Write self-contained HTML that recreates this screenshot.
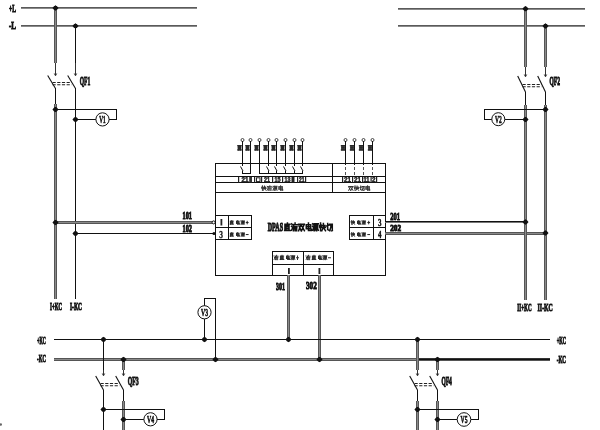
<!DOCTYPE html>
<html><head><meta charset="utf-8"><style>
html,body{margin:0;padding:0;background:#fff;}
svg{display:block;filter:grayscale(1);}
</style></head><body>
<svg width="600" height="430" viewBox="0 0 600 430">
<rect x="0" y="0" width="600" height="430" fill="#fff"/>
<rect x="21" y="7" width="176" height="1" fill="#5a5a5a"/>
<rect x="21" y="8" width="176" height="1" fill="#8a8a8a"/>
<rect x="21" y="25" width="176" height="1" fill="#5a5a5a"/>
<rect x="21" y="26" width="176" height="1" fill="#8a8a8a"/>
<rect x="398" y="8" width="187" height="1" fill="#5a5a5a"/>
<rect x="398" y="9" width="187" height="1" fill="#8a8a8a"/>
<rect x="398" y="25" width="187" height="1" fill="#5a5a5a"/>
<rect x="398" y="26" width="187" height="1" fill="#8a8a8a"/>
<text x="9" y="11.5" font-family="Liberation Serif" font-weight="bold" font-size="10.61" fill="#111" stroke="#111" stroke-width="1.0" textLength="7" lengthAdjust="spacingAndGlyphs">+L</text>
<text x="9" y="29" font-family="Liberation Serif" font-weight="bold" font-size="10.61" fill="#111" stroke="#111" stroke-width="1.0" textLength="7" lengthAdjust="spacingAndGlyphs">-L</text>
<rect x="54" y="8" width="3" height="55" fill="#555"/>
<rect x="55" y="8" width="1" height="55" fill="#8a8a8a"/>
<rect x="75" y="26" width="1" height="37" fill="#111"/>
<rect x="55" y="63" width="1" height="12" fill="#333"/>
<rect x="75" y="63" width="1" height="12" fill="#333"/>
<line x1="54.3" y1="73.5" x2="55.5" y2="75.8" stroke="#222" stroke-width="0.9"/>
<line x1="56.7" y1="73.5" x2="55.5" y2="75.8" stroke="#222" stroke-width="0.9"/>
<line x1="74.3" y1="73.5" x2="75.5" y2="75.8" stroke="#222" stroke-width="0.9"/>
<line x1="76.7" y1="73.5" x2="75.5" y2="75.8" stroke="#222" stroke-width="0.9"/>
<line x1="47.7" y1="75.5" x2="55.5" y2="88.5" stroke="#111" stroke-width="1.1"/>
<line x1="67.7" y1="75.5" x2="75.5" y2="88.5" stroke="#111" stroke-width="1.1"/>
<line x1="52.5" y1="82.5" x2="71.5" y2="82.5" stroke="#222" stroke-width="1.1" stroke-dasharray="3.2,1.5"/>
<line x1="52.5" y1="84.8" x2="71.5" y2="84.8" stroke="#222" stroke-width="1.1" stroke-dasharray="3.2,1.5"/>
<text x="79.7" y="85.2" font-family="Liberation Serif" font-weight="bold" font-size="12.42" fill="#111" stroke="#111" stroke-width="1.0" textLength="10.599999999999994" lengthAdjust="spacingAndGlyphs">QF1</text>
<rect x="55" y="88" width="1" height="16" fill="#111"/>
<rect x="54" y="104" width="3" height="195" fill="#555"/>
<rect x="55" y="104" width="1" height="195" fill="#8a8a8a"/>
<rect x="75" y="88" width="1" height="211" fill="#111"/>
<rect x="55" y="109" width="62" height="1" fill="#111"/>
<rect x="116" y="109" width="1" height="11" fill="#111"/>
<rect x="75" y="119" width="21" height="1" fill="#111"/>
<circle cx="102.5" cy="119.4" r="6.6" fill="#fff" stroke="#111" stroke-width="1"/>
<rect x="109" y="119" width="8" height="1" fill="#111"/>
<text x="99.3" y="123" font-family="Liberation Serif" font-weight="bold" font-size="11.21" fill="#111" stroke="#111" stroke-width="0.6" textLength="6.400000000000006" lengthAdjust="spacingAndGlyphs">V1</text>
<text x="50" y="309.7" font-family="Liberation Serif" font-weight="bold" font-size="10.15" fill="#111" stroke="#111" stroke-width="1.0" textLength="12" lengthAdjust="spacingAndGlyphs">I+KC</text>
<text x="70" y="309.7" font-family="Liberation Serif" font-weight="bold" font-size="10.15" fill="#111" stroke="#111" stroke-width="1.0" textLength="12" lengthAdjust="spacingAndGlyphs">I-KC</text>
<rect x="55" y="221" width="158" height="3" fill="#555"/>
<rect x="55" y="222" width="158" height="1" fill="#8a8a8a"/>
<rect x="75" y="233" width="138" height="1" fill="#111"/>
<circle cx="213.6" cy="222.4" r="1.5" fill="#fff" stroke="#111" stroke-width="1"/>
<text x="182.5" y="219.1" font-family="Liberation Serif" font-weight="bold" font-size="10.45" fill="#111" stroke="#111" stroke-width="1.0" textLength="9.5" lengthAdjust="spacingAndGlyphs">101</text>
<text x="182.5" y="232.4" font-family="Liberation Serif" font-weight="bold" font-size="10.91" fill="#111" stroke="#111" stroke-width="1.0" textLength="9.5" lengthAdjust="spacingAndGlyphs">102</text>
<rect x="215" y="163" width="171" height="1" fill="#111"/>
<rect x="215" y="275" width="171" height="1" fill="#111"/>
<rect x="215" y="163" width="1" height="113" fill="#111"/>
<rect x="385" y="163" width="1" height="113" fill="#111"/>
<rect x="215" y="176" width="170" height="1" fill="#111"/>
<rect x="215" y="182" width="170" height="1" fill="#111"/>
<rect x="215" y="192" width="170" height="1" fill="#111"/>
<rect x="332" y="163" width="1" height="29" fill="#111"/>
<rect x="215" y="215" width="37" height="1" fill="#111"/>
<rect x="215" y="227" width="37" height="1" fill="#111"/>
<rect x="215" y="239" width="37" height="1" fill="#111"/>
<rect x="228" y="215" width="1" height="25" fill="#111"/>
<rect x="251" y="215" width="1" height="25" fill="#111"/>
<rect x="349" y="215" width="37" height="1" fill="#111"/>
<rect x="349" y="227" width="37" height="1" fill="#111"/>
<rect x="349" y="239" width="37" height="1" fill="#111"/>
<rect x="349" y="215" width="1" height="25" fill="#111"/>
<rect x="373" y="215" width="1" height="25" fill="#111"/>
<rect x="272" y="251" width="62" height="1" fill="#111"/>
<rect x="272" y="264" width="62" height="1" fill="#111"/>
<rect x="272" y="251" width="1" height="25" fill="#111"/>
<rect x="303" y="251" width="1" height="25" fill="#111"/>
<rect x="333" y="251" width="1" height="25" fill="#111"/>
<text x="267.8" y="231.3" font-family="Liberation Serif" font-weight="bold" font-size="12.88" fill="#111" stroke="#111" stroke-width="1.2" textLength="15.199999999999989" lengthAdjust="spacingAndGlyphs">DPAS</text>
<path d="M284.93 224.23L289.97 224.23M287.45 223.00L287.45 225.46M285.88 225.46L285.88 229.97M289.03 225.46L289.03 229.97M285.88 225.46L289.03 225.46M285.88 227.10L289.03 227.10M285.88 228.74L289.03 228.74M284.62 230.54L290.29 230.54M284.93 225.46L284.93 230.54" stroke="#111" stroke-width="1.5" fill="none" stroke-linecap="square"/>
<path d="M291.62 223.82L292.25 224.64M291.49 226.28L292.25 227.10M291.62 230.38L292.43 228.33M295.08 223.00L295.08 224.23M293.19 224.64L297.29 224.64M293.82 224.64L293.50 226.69M293.50 226.69L296.97 226.69M293.82 227.92L293.50 230.79M295.21 227.92L295.21 230.79M296.66 227.92L296.66 230.79" stroke="#111" stroke-width="1.5" fill="none" stroke-linecap="square"/>
<path d="M298.49 224.23L301.13 224.23M301.13 224.23L298.62 230.79M298.93 225.87L301.13 230.79M301.45 224.23L304.29 224.23M304.29 224.23L301.58 230.79M301.76 225.87L304.41 230.79" stroke="#111" stroke-width="1.5" fill="none" stroke-linecap="square"/>
<path d="M306.25 224.64L310.66 224.64M306.25 224.64L306.25 228.74M310.66 224.64L310.66 228.74M306.25 226.69L310.66 226.69M306.25 228.74L310.66 228.74M308.45 223.00L308.45 230.38M308.45 230.38L311.29 230.38M311.29 230.38L311.29 229.15" stroke="#111" stroke-width="1.5" fill="none" stroke-linecap="square"/>
<path d="M312.62 223.82L313.25 224.64M312.49 226.28L313.25 227.10M312.62 230.38L313.43 228.33M314.19 223.82L318.29 223.82M314.32 223.82L314.19 230.79M315.45 225.05L317.66 225.05M315.45 225.05L315.45 227.51M317.66 225.05L317.66 227.51M315.45 226.28L317.66 226.28M315.45 227.51L317.66 227.51M316.58 227.51L316.58 230.79M315.45 228.74L314.95 230.38M317.66 228.74L318.29 230.38" stroke="#111" stroke-width="1.5" fill="none" stroke-linecap="square"/>
<path d="M320.56 223.00L320.56 230.79M319.49 225.46L319.80 227.51M321.19 225.05L321.69 225.87M322.13 225.46L324.97 225.46M324.97 225.46L324.97 227.51M321.82 227.51L325.47 227.51M323.40 223.41L323.40 227.51M323.40 227.51L321.82 230.79M323.40 227.51L325.47 230.79" stroke="#111" stroke-width="1.5" fill="none" stroke-linecap="square"/>
<path d="M326.62 225.87L329.45 225.05M327.69 223.41L327.69 229.56M327.69 229.56L329.13 230.38M329.76 224.23L332.29 224.23M332.29 224.23L332.29 230.38M332.29 230.38L331.66 230.79M330.90 224.23L330.84 227.10M330.84 227.10L329.76 230.79" stroke="#111" stroke-width="1.5" fill="none" stroke-linecap="square"/>
<rect x="385" y="221" width="140" height="1" fill="#111"/>
<rect x="385" y="222" width="140" height="1" fill="#777"/>
<rect x="385" y="232" width="160" height="3" fill="#555"/>
<rect x="385" y="233" width="160" height="1" fill="#8a8a8a"/>
<text x="390.2" y="219.7" font-family="Liberation Serif" font-weight="bold" font-size="11.36" fill="#111" stroke="#111" stroke-width="1.0" textLength="9.800000000000011" lengthAdjust="spacingAndGlyphs">201</text>
<text x="390.2" y="231" font-family="Liberation Serif" font-weight="bold" font-size="9.09" fill="#111" stroke="#111" stroke-width="1.0" textLength="10.800000000000011" lengthAdjust="spacingAndGlyphs">202</text>
<rect x="524" y="9" width="3" height="58" fill="#555"/>
<rect x="525" y="9" width="1" height="58" fill="#8a8a8a"/>
<rect x="544" y="26" width="3" height="41" fill="#555"/>
<rect x="545" y="26" width="1" height="41" fill="#8a8a8a"/>
<rect x="525" y="67" width="1" height="9" fill="#333"/>
<rect x="545" y="67" width="1" height="9" fill="#333"/>
<line x1="524.3" y1="74.5" x2="525.5" y2="76.8" stroke="#222" stroke-width="0.9"/>
<line x1="526.7" y1="74.5" x2="525.5" y2="76.8" stroke="#222" stroke-width="0.9"/>
<line x1="544.3" y1="74.5" x2="545.5" y2="76.8" stroke="#222" stroke-width="0.9"/>
<line x1="546.7" y1="74.5" x2="545.5" y2="76.8" stroke="#222" stroke-width="0.9"/>
<line x1="517.7" y1="76" x2="525.5" y2="92" stroke="#111" stroke-width="1.1"/>
<line x1="537.7" y1="76" x2="545.5" y2="92" stroke="#111" stroke-width="1.1"/>
<line x1="522.5" y1="84.5" x2="541.5" y2="84.5" stroke="#222" stroke-width="1.1" stroke-dasharray="3.2,1.5"/>
<line x1="522.5" y1="86.8" x2="541.5" y2="86.8" stroke="#222" stroke-width="1.1" stroke-dasharray="3.2,1.5"/>
<text x="549.5" y="85.4" font-family="Liberation Serif" font-weight="bold" font-size="11.67" fill="#111" stroke="#111" stroke-width="1.0" textLength="10.5" lengthAdjust="spacingAndGlyphs">QF2</text>
<rect x="525" y="92" width="1" height="13" fill="#111"/>
<rect x="524" y="105" width="3" height="195" fill="#555"/>
<rect x="525" y="105" width="1" height="195" fill="#8a8a8a"/>
<rect x="545" y="92" width="1" height="13" fill="#111"/>
<rect x="544" y="105" width="3" height="195" fill="#555"/>
<rect x="545" y="105" width="1" height="195" fill="#8a8a8a"/>
<rect x="484" y="109" width="61" height="1" fill="#111"/>
<rect x="484" y="109" width="1" height="11" fill="#111"/>
<rect x="484" y="119" width="8" height="1" fill="#111"/>
<circle cx="498.3" cy="119.2" r="6.5" fill="#fff" stroke="#111" stroke-width="1"/>
<rect x="505" y="119" width="20" height="1" fill="#111"/>
<text x="495" y="122.8" font-family="Liberation Serif" font-weight="bold" font-size="11.06" fill="#111" stroke="#111" stroke-width="0.6" textLength="6.699999999999989" lengthAdjust="spacingAndGlyphs">V2</text>
<text x="517.2" y="310.8" font-family="Liberation Serif" font-weight="bold" font-size="10.91" fill="#111" stroke="#111" stroke-width="1.0" textLength="14.399999999999977" lengthAdjust="spacingAndGlyphs">II+KC</text>
<text x="537.6" y="310.8" font-family="Liberation Serif" font-weight="bold" font-size="10.91" fill="#111" stroke="#111" stroke-width="1.0" textLength="15.199999999999932" lengthAdjust="spacingAndGlyphs">II-KC</text>
<rect x="287" y="275" width="3" height="64" fill="#555"/>
<rect x="288" y="275" width="1" height="64" fill="#8a8a8a"/>
<rect x="318" y="275" width="3" height="84" fill="#555"/>
<rect x="319" y="275" width="1" height="84" fill="#8a8a8a"/>
<text x="275.9" y="290.2" font-family="Liberation Serif" font-weight="bold" font-size="10.91" fill="#111" stroke="#111" stroke-width="1.0" textLength="9.0" lengthAdjust="spacingAndGlyphs">301</text>
<text x="306" y="288.6" font-family="Liberation Serif" font-weight="bold" font-size="10.91" fill="#111" stroke="#111" stroke-width="1.0" textLength="10.800000000000011" lengthAdjust="spacingAndGlyphs">302</text>
<rect x="54" y="339" width="496" height="1" fill="#111"/>
<rect x="54" y="358" width="363" height="3" fill="#555"/>
<rect x="54" y="359" width="363" height="1" fill="#8a8a8a"/>
<rect x="417" y="358" width="133" height="1" fill="#333"/>
<rect x="417" y="359" width="133" height="1" fill="#111"/>
<rect x="417" y="360" width="133" height="1" fill="#555"/>
<text x="37.1" y="343.7" font-family="Liberation Serif" font-weight="bold" font-size="10.76" fill="#111" stroke="#111" stroke-width="1.0" textLength="8.799999999999997" lengthAdjust="spacingAndGlyphs">+KC</text>
<text x="37.1" y="362.3" font-family="Liberation Serif" font-weight="bold" font-size="10.76" fill="#111" stroke="#111" stroke-width="1.0" textLength="8.799999999999997" lengthAdjust="spacingAndGlyphs">-KC</text>
<text x="556.7" y="343.8" font-family="Liberation Serif" font-weight="bold" font-size="11.06" fill="#111" stroke="#111" stroke-width="1.0" textLength="9.399999999999977" lengthAdjust="spacingAndGlyphs">+KC</text>
<text x="556.7" y="362.7" font-family="Liberation Serif" font-weight="bold" font-size="11.06" fill="#111" stroke="#111" stroke-width="1.0" textLength="9.299999999999955" lengthAdjust="spacingAndGlyphs">-KC</text>
<rect x="204" y="298" width="1" height="41" fill="#111"/>
<rect x="215" y="298" width="1" height="61" fill="#111"/>
<rect x="204" y="298" width="12" height="1" fill="#111"/>
<circle cx="204.5" cy="312.3" r="6.6" fill="#fff" stroke="#111" stroke-width="1"/>
<text x="201" y="316" font-family="Liberation Serif" font-weight="bold" font-size="11.36" fill="#111" stroke="#111" stroke-width="0.6" textLength="7" lengthAdjust="spacingAndGlyphs">V3</text>
<rect x="103" y="339" width="1" height="31" fill="#111"/>
<rect x="122" y="359" width="3" height="11" fill="#555"/>
<rect x="123" y="359" width="1" height="11" fill="#8a8a8a"/>
<rect x="103" y="370" width="1" height="5" fill="#333"/>
<rect x="123" y="370" width="1" height="5" fill="#333"/>
<line x1="102.3" y1="373.5" x2="103.5" y2="375.8" stroke="#222" stroke-width="0.9"/>
<line x1="104.7" y1="373.5" x2="103.5" y2="375.8" stroke="#222" stroke-width="0.9"/>
<line x1="122.3" y1="373.5" x2="123.5" y2="375.8" stroke="#222" stroke-width="0.9"/>
<line x1="124.7" y1="373.5" x2="123.5" y2="375.8" stroke="#222" stroke-width="0.9"/>
<line x1="95.7" y1="376" x2="103.5" y2="390" stroke="#111" stroke-width="1.1"/>
<line x1="115.7" y1="376" x2="123.5" y2="390" stroke="#111" stroke-width="1.1"/>
<line x1="100.5" y1="383.5" x2="119.5" y2="383.5" stroke="#222" stroke-width="1.1" stroke-dasharray="3.2,1.5"/>
<line x1="100.5" y1="385.8" x2="119.5" y2="385.8" stroke="#222" stroke-width="1.1" stroke-dasharray="3.2,1.5"/>
<text x="127.7" y="385" font-family="Liberation Serif" font-weight="bold" font-size="12.12" fill="#111" stroke="#111" stroke-width="1.0" textLength="10.999999999999986" lengthAdjust="spacingAndGlyphs">QF3</text>
<rect x="103" y="390" width="1" height="40" fill="#111"/>
<rect x="123" y="390" width="1" height="11" fill="#111"/>
<rect x="122" y="401" width="3" height="29" fill="#555"/>
<rect x="123" y="401" width="1" height="29" fill="#8a8a8a"/>
<rect x="103" y="409" width="62" height="1" fill="#111"/>
<rect x="164" y="409" width="1" height="11" fill="#111"/>
<rect x="123" y="419" width="21" height="1" fill="#111"/>
<circle cx="150.5" cy="419.3" r="6.6" fill="#fff" stroke="#111" stroke-width="1"/>
<rect x="157" y="419" width="8" height="1" fill="#111"/>
<text x="147" y="423" font-family="Liberation Serif" font-weight="bold" font-size="11.36" fill="#111" stroke="#111" stroke-width="0.6" textLength="7" lengthAdjust="spacingAndGlyphs">V4</text>
<rect x="416" y="339" width="3" height="31" fill="#555"/>
<rect x="417" y="339" width="1" height="31" fill="#8a8a8a"/>
<rect x="436" y="359" width="3" height="11" fill="#555"/>
<rect x="437" y="359" width="1" height="11" fill="#8a8a8a"/>
<rect x="417" y="370" width="1" height="5" fill="#333"/>
<rect x="437" y="370" width="1" height="5" fill="#333"/>
<line x1="416.3" y1="373.5" x2="417.5" y2="375.8" stroke="#222" stroke-width="0.9"/>
<line x1="418.7" y1="373.5" x2="417.5" y2="375.8" stroke="#222" stroke-width="0.9"/>
<line x1="436.3" y1="373.5" x2="437.5" y2="375.8" stroke="#222" stroke-width="0.9"/>
<line x1="438.7" y1="373.5" x2="437.5" y2="375.8" stroke="#222" stroke-width="0.9"/>
<line x1="409.7" y1="376" x2="417.5" y2="390" stroke="#111" stroke-width="1.1"/>
<line x1="429.7" y1="376" x2="437.5" y2="390" stroke="#111" stroke-width="1.1"/>
<line x1="414.5" y1="383.5" x2="433.5" y2="383.5" stroke="#222" stroke-width="1.1" stroke-dasharray="3.2,1.5"/>
<line x1="414.5" y1="385.8" x2="433.5" y2="385.8" stroke="#222" stroke-width="1.1" stroke-dasharray="3.2,1.5"/>
<text x="441.4" y="385.4" font-family="Liberation Serif" font-weight="bold" font-size="12.88" fill="#111" stroke="#111" stroke-width="1.0" textLength="10.5" lengthAdjust="spacingAndGlyphs">QF4</text>
<rect x="417" y="390" width="1" height="11" fill="#111"/>
<rect x="416" y="401" width="3" height="29" fill="#555"/>
<rect x="417" y="401" width="1" height="29" fill="#8a8a8a"/>
<rect x="437" y="390" width="1" height="11" fill="#111"/>
<rect x="436" y="401" width="3" height="29" fill="#555"/>
<rect x="437" y="401" width="1" height="29" fill="#8a8a8a"/>
<rect x="417" y="409" width="62" height="1" fill="#111"/>
<rect x="478" y="409" width="1" height="11" fill="#111"/>
<rect x="437" y="419" width="20" height="1" fill="#111"/>
<circle cx="464" cy="419.5" r="6.8" fill="#fff" stroke="#111" stroke-width="1"/>
<rect x="471" y="419" width="8" height="1" fill="#111"/>
<text x="460.5" y="423.2" font-family="Liberation Serif" font-weight="bold" font-size="11.21" fill="#111" stroke="#111" stroke-width="0.6" textLength="7.0" lengthAdjust="spacingAndGlyphs">V5</text>
<circle cx="242.5" cy="140" r="1.5" fill="#fff" stroke="#333" stroke-width="0.9"/>
<g fill="#2a2a2a">
<rect x="237.3" y="145" width="4.4" height="1.4"/>
<rect x="237.8" y="147.10000000000002" width="3.4000000000000004" height="1.4"/>
<rect x="237.3" y="149.2" width="4.4" height="1.4"/>
<rect x="237.70000000000002" y="145" width="1.5" height="5.6"/>
<rect x="239.8" y="145" width="1.5" height="5.6"/>
<rect x="238.9" y="145.5" width="1.2" height="4.6"/>
</g>
<circle cx="250.5" cy="140" r="1.5" fill="#fff" stroke="#333" stroke-width="0.9"/>
<g fill="#2a2a2a">
<rect x="245.3" y="145" width="4.4" height="1.4"/>
<rect x="245.8" y="147.10000000000002" width="3.4000000000000004" height="1.4"/>
<rect x="245.3" y="149.2" width="4.4" height="1.4"/>
<rect x="245.70000000000002" y="145" width="1.5" height="5.6"/>
<rect x="247.8" y="145" width="1.5" height="5.6"/>
<rect x="246.9" y="145.5" width="1.2" height="4.6"/>
</g>
<circle cx="259.5" cy="140" r="1.5" fill="#fff" stroke="#333" stroke-width="0.9"/>
<g fill="#2a2a2a">
<rect x="254.3" y="145" width="4.4" height="1.4"/>
<rect x="254.8" y="147.10000000000002" width="3.4000000000000004" height="1.4"/>
<rect x="254.3" y="149.2" width="4.4" height="1.4"/>
<rect x="254.70000000000002" y="145" width="1.5" height="5.6"/>
<rect x="256.8" y="145" width="1.5" height="5.6"/>
<rect x="255.9" y="145.5" width="1.2" height="4.6"/>
</g>
<circle cx="268.5" cy="140" r="1.5" fill="#fff" stroke="#333" stroke-width="0.9"/>
<g fill="#2a2a2a">
<rect x="263.3" y="145" width="4.4" height="1.4"/>
<rect x="263.8" y="147.10000000000002" width="3.4000000000000004" height="1.4"/>
<rect x="263.3" y="149.2" width="4.4" height="1.4"/>
<rect x="263.7" y="145" width="1.5" height="5.6"/>
<rect x="265.8" y="145" width="1.5" height="5.6"/>
<rect x="264.9" y="145.5" width="1.2" height="4.6"/>
</g>
<circle cx="276.5" cy="140" r="1.5" fill="#fff" stroke="#333" stroke-width="0.9"/>
<g fill="#2a2a2a">
<rect x="271.3" y="145" width="4.4" height="1.4"/>
<rect x="271.8" y="147.10000000000002" width="3.4000000000000004" height="1.4"/>
<rect x="271.3" y="149.2" width="4.4" height="1.4"/>
<rect x="271.7" y="145" width="1.5" height="5.6"/>
<rect x="273.8" y="145" width="1.5" height="5.6"/>
<rect x="272.9" y="145.5" width="1.2" height="4.6"/>
</g>
<circle cx="285.5" cy="140" r="1.5" fill="#fff" stroke="#333" stroke-width="0.9"/>
<g fill="#2a2a2a">
<rect x="280.3" y="145" width="4.4" height="1.4"/>
<rect x="280.8" y="147.10000000000002" width="3.4000000000000004" height="1.4"/>
<rect x="280.3" y="149.2" width="4.4" height="1.4"/>
<rect x="280.7" y="145" width="1.5" height="5.6"/>
<rect x="282.8" y="145" width="1.5" height="5.6"/>
<rect x="281.9" y="145.5" width="1.2" height="4.6"/>
</g>
<circle cx="294.5" cy="140" r="1.5" fill="#fff" stroke="#333" stroke-width="0.9"/>
<g fill="#2a2a2a">
<rect x="289.3" y="145" width="4.4" height="1.4"/>
<rect x="289.8" y="147.10000000000002" width="3.4000000000000004" height="1.4"/>
<rect x="289.3" y="149.2" width="4.4" height="1.4"/>
<rect x="289.7" y="145" width="1.5" height="5.6"/>
<rect x="291.8" y="145" width="1.5" height="5.6"/>
<rect x="290.9" y="145.5" width="1.2" height="4.6"/>
</g>
<circle cx="302.5" cy="140" r="1.5" fill="#fff" stroke="#333" stroke-width="0.9"/>
<g fill="#2a2a2a">
<rect x="297.3" y="145" width="4.4" height="1.4"/>
<rect x="297.8" y="147.10000000000002" width="3.4000000000000004" height="1.4"/>
<rect x="297.3" y="149.2" width="4.4" height="1.4"/>
<rect x="297.7" y="145" width="1.5" height="5.6"/>
<rect x="299.8" y="145" width="1.5" height="5.6"/>
<rect x="298.9" y="145.5" width="1.2" height="4.6"/>
</g>
<rect x="242" y="141" width="1" height="25" fill="#111"/>
<line x1="240.5" y1="166.5" x2="243" y2="171" stroke="#111" stroke-width="1"/>
<rect x="242" y="171" width="1" height="3" fill="#111"/>
<rect x="250" y="141" width="1" height="33" fill="#111"/>
<rect x="242" y="173" width="9" height="1" fill="#111"/>
<rect x="259" y="141" width="1" height="33" fill="#111"/>
<rect x="268" y="141" width="1" height="25" fill="#111"/>
<line x1="266.5" y1="166.5" x2="269" y2="171" stroke="#111" stroke-width="1"/>
<rect x="268" y="171" width="1" height="3" fill="#111"/>
<rect x="276" y="141" width="1" height="25" fill="#111"/>
<line x1="274.5" y1="166.5" x2="277" y2="171" stroke="#111" stroke-width="1"/>
<rect x="276" y="171" width="1" height="3" fill="#111"/>
<rect x="285" y="141" width="1" height="25" fill="#111"/>
<line x1="283.5" y1="166.5" x2="286" y2="171" stroke="#111" stroke-width="1"/>
<rect x="285" y="171" width="1" height="3" fill="#111"/>
<rect x="294" y="141" width="1" height="25" fill="#111"/>
<line x1="292.5" y1="166.5" x2="295" y2="171" stroke="#111" stroke-width="1"/>
<rect x="294" y="171" width="1" height="3" fill="#111"/>
<rect x="302" y="141" width="1" height="25" fill="#111"/>
<line x1="300.5" y1="166.5" x2="303" y2="171" stroke="#111" stroke-width="1"/>
<rect x="302" y="171" width="1" height="3" fill="#111"/>
<rect x="259" y="173" width="44" height="1" fill="#111"/>
<rect x="238" y="177" width="1.2" height="5.5" fill="#222"/>
<rect x="254" y="177" width="1.2" height="5.5" fill="#222"/>
<rect x="261" y="177" width="1.2" height="5.5" fill="#222"/>
<rect x="272" y="177" width="1.2" height="5.5" fill="#222"/>
<rect x="282" y="177" width="1.2" height="5.5" fill="#222"/>
<rect x="297" y="177" width="1.2" height="5.5" fill="#222"/>
<rect x="305" y="177" width="1.2" height="5.5" fill="#222"/>
<text x="241.5" y="182.2" font-family="Liberation Sans" font-weight="bold" font-size="7.21" fill="#222" stroke="#222" stroke-width="0.5" textLength="7.0" lengthAdjust="spacingAndGlyphs">21</text>
<rect x="249.2" y="177" width="2.8" height="5.5" fill="#333"/>
<rect x="256.5" y="177.8" width="3.5" height="3.8" fill="none" stroke="#222" stroke-width="1"/>
<text x="264" y="182.2" font-family="Liberation Sans" font-weight="bold" font-size="7.21" fill="#222" stroke="#222" stroke-width="0.5" textLength="6" lengthAdjust="spacingAndGlyphs">21</text>
<text x="274.5" y="182.2" font-family="Liberation Sans" font-weight="bold" font-size="7.21" fill="#222" stroke="#222" stroke-width="0.5" textLength="6.0" lengthAdjust="spacingAndGlyphs">15</text>
<text x="284.5" y="182.2" font-family="Liberation Sans" font-weight="bold" font-size="7.21" fill="#222" stroke="#222" stroke-width="0.5" textLength="6.0" lengthAdjust="spacingAndGlyphs">13</text>
<rect x="291.5" y="177" width="3" height="5.5" fill="#222"/>
<text x="299" y="182.2" font-family="Liberation Sans" font-weight="bold" font-size="7.21" fill="#222" stroke="#222" stroke-width="0.5" textLength="5.5" lengthAdjust="spacingAndGlyphs">21</text>
<path d="M262.42 185.80L262.42 190.36M261.64 187.24L261.87 188.44M262.88 187.00L263.25 187.48M263.57 187.24L265.64 187.24M265.64 187.24L265.64 188.44M263.34 188.44L266.01 188.44M264.49 186.04L264.49 188.44M264.49 188.44L263.34 190.36M264.49 188.44L266.01 190.36" stroke="#333" stroke-width="1.0" fill="none" stroke-linecap="square"/>
<path d="M267.33 186.28L267.79 186.76M267.24 187.72L267.79 188.20M267.33 190.12L267.93 188.92M269.86 185.80L269.86 186.52M268.48 186.76L271.47 186.76M268.94 186.76L268.71 187.96M268.71 187.96L271.24 187.96M268.94 188.68L268.71 190.36M269.95 188.68L269.95 190.36M271.01 188.68L271.01 190.36" stroke="#333" stroke-width="1.0" fill="none" stroke-linecap="square"/>
<path d="M272.93 186.28L273.39 186.76M272.84 187.72L273.39 188.20M272.93 190.12L273.53 188.92M274.08 186.28L277.07 186.28M274.17 186.28L274.08 190.36M275.00 187.00L276.61 187.00M275.00 187.00L275.00 188.44M276.61 187.00L276.61 188.44M275.00 187.72L276.61 187.72M275.00 188.44L276.61 188.44M275.83 188.44L275.83 190.36M275.00 189.16L274.63 190.12M276.61 189.16L277.07 190.12" stroke="#333" stroke-width="1.0" fill="none" stroke-linecap="square"/>
<path d="M278.99 186.76L282.21 186.76M278.99 186.76L278.99 189.16M282.21 186.76L282.21 189.16M278.99 187.96L282.21 187.96M278.99 189.16L282.21 189.16M280.60 185.80L280.60 190.12M280.60 190.12L282.67 190.12M282.67 190.12L282.67 189.40" stroke="#333" stroke-width="1.0" fill="none" stroke-linecap="square"/>
<circle cx="345.5" cy="140" r="1.5" fill="#fff" stroke="#333" stroke-width="0.9"/>
<g fill="#2a2a2a">
<rect x="340.8" y="145" width="4.4" height="1.4"/>
<rect x="341.3" y="147.10000000000002" width="3.4000000000000004" height="1.4"/>
<rect x="340.8" y="149.2" width="4.4" height="1.4"/>
<rect x="341.2" y="145" width="1.5" height="5.6"/>
<rect x="343.3" y="145" width="1.5" height="5.6"/>
<rect x="342.4" y="145.5" width="1.2" height="4.6"/>
</g>
<rect x="345" y="141" width="1" height="24" fill="#111"/>
<rect x="345" y="167" width="1" height="3" fill="#555"/>
<rect x="345" y="172" width="1" height="3" fill="#555"/>
<circle cx="354.5" cy="140" r="1.5" fill="#fff" stroke="#333" stroke-width="0.9"/>
<g fill="#2a2a2a">
<rect x="349.8" y="145" width="4.4" height="1.4"/>
<rect x="350.3" y="147.10000000000002" width="3.4000000000000004" height="1.4"/>
<rect x="349.8" y="149.2" width="4.4" height="1.4"/>
<rect x="350.2" y="145" width="1.5" height="5.6"/>
<rect x="352.3" y="145" width="1.5" height="5.6"/>
<rect x="351.4" y="145.5" width="1.2" height="4.6"/>
</g>
<rect x="354" y="141" width="1" height="24" fill="#111"/>
<rect x="354" y="167" width="1" height="3" fill="#555"/>
<rect x="354" y="172" width="1" height="3" fill="#555"/>
<circle cx="363.5" cy="140" r="1.5" fill="#fff" stroke="#333" stroke-width="0.9"/>
<g fill="#2a2a2a">
<rect x="358.8" y="145" width="4.4" height="1.4"/>
<rect x="359.3" y="147.10000000000002" width="3.4000000000000004" height="1.4"/>
<rect x="358.8" y="149.2" width="4.4" height="1.4"/>
<rect x="359.2" y="145" width="1.5" height="5.6"/>
<rect x="361.3" y="145" width="1.5" height="5.6"/>
<rect x="360.4" y="145.5" width="1.2" height="4.6"/>
</g>
<rect x="363" y="141" width="1" height="24" fill="#111"/>
<rect x="363" y="167" width="1" height="3" fill="#555"/>
<rect x="363" y="172" width="1" height="3" fill="#555"/>
<circle cx="372.5" cy="140" r="1.5" fill="#fff" stroke="#333" stroke-width="0.9"/>
<g fill="#2a2a2a">
<rect x="367.8" y="145" width="4.4" height="1.4"/>
<rect x="368.3" y="147.10000000000002" width="3.4000000000000004" height="1.4"/>
<rect x="367.8" y="149.2" width="4.4" height="1.4"/>
<rect x="368.2" y="145" width="1.5" height="5.6"/>
<rect x="370.3" y="145" width="1.5" height="5.6"/>
<rect x="369.4" y="145.5" width="1.2" height="4.6"/>
</g>
<rect x="372" y="141" width="1" height="24" fill="#111"/>
<rect x="372" y="167" width="1" height="3" fill="#555"/>
<rect x="372" y="172" width="1" height="3" fill="#555"/>
<rect x="342" y="177" width="1.2" height="5.5" fill="#222"/>
<rect x="352" y="177" width="1.2" height="5.5" fill="#222"/>
<rect x="362" y="177" width="1.2" height="5.5" fill="#222"/>
<rect x="370.5" y="177" width="1.2" height="5.5" fill="#222"/>
<rect x="376" y="177" width="1.2" height="5.5" fill="#222"/>
<text x="344" y="182.2" font-family="Liberation Sans" font-weight="bold" font-size="7.21" fill="#222" stroke="#222" stroke-width="0.5" textLength="7" lengthAdjust="spacingAndGlyphs">21</text>
<text x="354" y="182.2" font-family="Liberation Sans" font-weight="bold" font-size="7.21" fill="#222" stroke="#222" stroke-width="0.5" textLength="7" lengthAdjust="spacingAndGlyphs">21</text>
<text x="363.5" y="182.2" font-family="Liberation Sans" font-weight="bold" font-size="7.21" fill="#222" stroke="#222" stroke-width="0.5" textLength="6.0" lengthAdjust="spacingAndGlyphs">11</text>
<text x="372" y="182.2" font-family="Liberation Sans" font-weight="bold" font-size="7.21" fill="#222" stroke="#222" stroke-width="0.5" textLength="3.5" lengthAdjust="spacingAndGlyphs">2</text>
<path d="M348.64 186.52L350.57 186.52M350.57 186.52L348.73 190.36M348.96 187.48L350.57 190.36M350.80 186.52L352.87 186.52M352.87 186.52L350.89 190.36M351.03 187.48L352.96 190.36" stroke="#333" stroke-width="1.0" fill="none" stroke-linecap="square"/>
<path d="M355.02 185.80L355.02 190.36M354.24 187.24L354.47 188.44M355.48 187.00L355.85 187.48M356.17 187.24L358.24 187.24M358.24 187.24L358.24 188.44M355.94 188.44L358.61 188.44M357.09 186.04L357.09 188.44M357.09 188.44L355.94 190.36M357.09 188.44L358.61 190.36" stroke="#333" stroke-width="1.0" fill="none" stroke-linecap="square"/>
<path d="M359.93 187.48L362.00 187.00M360.71 186.04L360.71 189.64M360.71 189.64L361.77 190.12M362.23 186.52L364.07 186.52M364.07 186.52L364.07 190.12M364.07 190.12L363.61 190.36M363.06 186.52L363.01 188.20M363.01 188.20L362.23 190.36" stroke="#333" stroke-width="1.0" fill="none" stroke-linecap="square"/>
<path d="M365.99 186.76L369.21 186.76M365.99 186.76L365.99 189.16M369.21 186.76L369.21 189.16M365.99 187.96L369.21 187.96M365.99 189.16L369.21 189.16M367.60 185.80L367.60 190.12M367.60 190.12L369.67 190.12M369.67 190.12L369.67 189.40" stroke="#333" stroke-width="1.0" fill="none" stroke-linecap="square"/>
<path d="M230.36 221.10L233.24 221.10M231.80 220.50L231.80 221.70M230.90 221.70L230.90 223.90M232.70 221.70L232.70 223.90M230.90 221.70L232.70 221.70M230.90 222.50L232.70 222.50M230.90 223.30L232.70 223.30M230.18 224.18L233.42 224.18M230.36 221.70L230.36 224.18" stroke="#222" stroke-width="0.9" fill="none" stroke-linecap="square"/>
<path d="M236.51 221.30L238.89 221.30M236.51 221.30L236.51 223.30M238.89 221.30L238.89 223.30M236.51 222.30L238.89 222.30M236.51 223.30L238.89 223.30M237.70 220.50L237.70 224.10M237.70 224.10L239.23 224.10M239.23 224.10L239.23 223.50" stroke="#222" stroke-width="0.9" fill="none" stroke-linecap="square"/>
<path d="M240.99 220.90L241.37 221.30M240.91 222.10L241.37 222.50M240.99 224.10L241.48 223.10M241.94 220.90L244.41 220.90M242.02 220.90L241.94 224.30M242.70 221.50L244.03 221.50M242.70 221.50L242.70 222.70M244.03 221.50L244.03 222.70M242.70 222.10L244.03 222.10M242.70 222.70L244.03 222.70M243.38 222.70L243.38 224.30M242.70 223.30L242.40 224.10M244.03 223.30L244.41 224.10" stroke="#222" stroke-width="0.9" fill="none" stroke-linecap="square"/>
<g fill="#222"><rect x="245.8" y="222.05" width="2.8" height="1"/><rect x="246.70000000000002" y="220.8" width="1" height="3.5"/></g>
<path d="M351.72 220.50L351.72 224.30M351.11 221.70L351.29 222.70M352.08 221.50L352.37 221.90M352.62 221.70L354.24 221.70M354.24 221.70L354.24 222.70M352.44 222.70L354.53 222.70M353.34 220.70L353.34 222.70M353.34 222.70L352.44 224.30M353.34 222.70L354.53 224.30" stroke="#222" stroke-width="0.9" fill="none" stroke-linecap="square"/>
<path d="M357.51 221.30L359.89 221.30M357.51 221.30L357.51 223.30M359.89 221.30L359.89 223.30M357.51 222.30L359.89 222.30M357.51 223.30L359.89 223.30M358.70 220.50L358.70 224.10M358.70 224.10L360.23 224.10M360.23 224.10L360.23 223.50" stroke="#222" stroke-width="0.9" fill="none" stroke-linecap="square"/>
<path d="M361.99 220.90L362.37 221.30M361.91 222.10L362.37 222.50M361.99 224.10L362.48 223.10M362.94 220.90L365.41 220.90M363.02 220.90L362.94 224.30M363.70 221.50L365.03 221.50M363.70 221.50L363.70 222.70M365.03 221.50L365.03 222.70M363.70 222.10L365.03 222.10M363.70 222.70L365.03 222.70M364.38 222.70L364.38 224.30M363.70 223.30L363.40 224.10M365.03 223.30L365.41 224.10" stroke="#222" stroke-width="0.9" fill="none" stroke-linecap="square"/>
<g fill="#222"><rect x="367.3" y="222.05" width="2.8" height="1"/><rect x="368.2" y="220.8" width="1" height="3.5"/></g>
<path d="M230.36 233.10L233.24 233.10M231.80 232.50L231.80 233.70M230.90 233.70L230.90 235.90M232.70 233.70L232.70 235.90M230.90 233.70L232.70 233.70M230.90 234.50L232.70 234.50M230.90 235.30L232.70 235.30M230.18 236.18L233.42 236.18M230.36 233.70L230.36 236.18" stroke="#222" stroke-width="0.9" fill="none" stroke-linecap="square"/>
<path d="M236.51 233.30L238.89 233.30M236.51 233.30L236.51 235.30M238.89 233.30L238.89 235.30M236.51 234.30L238.89 234.30M236.51 235.30L238.89 235.30M237.70 232.50L237.70 236.10M237.70 236.10L239.23 236.10M239.23 236.10L239.23 235.50" stroke="#222" stroke-width="0.9" fill="none" stroke-linecap="square"/>
<path d="M240.99 232.90L241.37 233.30M240.91 234.10L241.37 234.50M240.99 236.10L241.48 235.10M241.94 232.90L244.41 232.90M242.02 232.90L241.94 236.30M242.70 233.50L244.03 233.50M242.70 233.50L242.70 234.70M244.03 233.50L244.03 234.70M242.70 234.10L244.03 234.10M242.70 234.70L244.03 234.70M243.38 234.70L243.38 236.30M242.70 235.30L242.40 236.10M244.03 235.30L244.41 236.10" stroke="#222" stroke-width="0.9" fill="none" stroke-linecap="square"/>
<rect x="245.8" y="234.05" width="2.8" height="1" fill="#222"/>
<path d="M351.72 232.50L351.72 236.30M351.11 233.70L351.29 234.70M352.08 233.50L352.37 233.90M352.62 233.70L354.24 233.70M354.24 233.70L354.24 234.70M352.44 234.70L354.53 234.70M353.34 232.70L353.34 234.70M353.34 234.70L352.44 236.30M353.34 234.70L354.53 236.30" stroke="#222" stroke-width="0.9" fill="none" stroke-linecap="square"/>
<path d="M357.51 233.30L359.89 233.30M357.51 233.30L357.51 235.30M359.89 233.30L359.89 235.30M357.51 234.30L359.89 234.30M357.51 235.30L359.89 235.30M358.70 232.50L358.70 236.10M358.70 236.10L360.23 236.10M360.23 236.10L360.23 235.50" stroke="#222" stroke-width="0.9" fill="none" stroke-linecap="square"/>
<path d="M361.99 232.90L362.37 233.30M361.91 234.10L362.37 234.50M361.99 236.10L362.48 235.10M362.94 232.90L365.41 232.90M363.02 232.90L362.94 236.30M363.70 233.50L365.03 233.50M363.70 233.50L363.70 234.70M365.03 233.50L365.03 234.70M363.70 234.10L365.03 234.10M363.70 234.70L365.03 234.70M364.38 234.70L364.38 236.30M363.70 235.30L363.40 236.10M365.03 235.30L365.41 236.10" stroke="#222" stroke-width="0.9" fill="none" stroke-linecap="square"/>
<rect x="367.3" y="234.05" width="2.8" height="1" fill="#222"/>
<rect x="220.5" y="219" width="1.8" height="6.5" fill="#222"/>
<text x="219.3" y="237.5" font-family="Liberation Serif" font-weight="bold" font-size="9.85" fill="#111" stroke="#111" stroke-width="0.3" textLength="3.6999999999999886" lengthAdjust="spacingAndGlyphs">3</text>
<text x="378" y="225.6" font-family="Liberation Serif" font-weight="bold" font-size="10.00" fill="#111" stroke="#111" stroke-width="0.4" textLength="3.5" lengthAdjust="spacingAndGlyphs">3</text>
<text x="378" y="237.5" font-family="Liberation Serif" font-weight="bold" font-size="9.85" fill="#111" stroke="#111" stroke-width="0.4" textLength="3.5" lengthAdjust="spacingAndGlyphs">4</text>
<path d="M274.21 255.76L274.64 256.22M274.13 257.14L274.64 257.60M274.21 259.44L274.77 258.29M276.58 255.30L276.58 255.99M275.29 256.22L278.08 256.22M275.72 256.22L275.50 257.37M275.50 257.37L277.87 257.37M275.72 258.06L275.50 259.67M276.67 258.06L276.67 259.67M277.65 258.06L277.65 259.67" stroke="#222" stroke-width="0.9" fill="none" stroke-linecap="square"/>
<path d="M280.40 255.99L283.60 255.99M282.00 255.30L282.00 256.68M281.00 256.68L281.00 259.21M283.00 256.68L283.00 259.21M281.00 256.68L283.00 256.68M281.00 257.60L283.00 257.60M281.00 258.52L283.00 258.52M280.20 259.53L283.80 259.53M280.40 256.68L280.40 259.53" stroke="#222" stroke-width="0.9" fill="none" stroke-linecap="square"/>
<path d="M286.52 256.22L288.98 256.22M286.52 256.22L286.52 258.52M288.98 256.22L288.98 258.52M286.52 257.37L288.98 257.37M286.52 258.52L288.98 258.52M287.75 255.30L287.75 259.44M287.75 259.44L289.32 259.44M289.32 259.44L289.32 258.75" stroke="#222" stroke-width="0.9" fill="none" stroke-linecap="square"/>
<path d="M290.73 255.76L291.18 256.22M290.63 257.14L291.18 257.60M290.73 259.44L291.31 258.29M291.85 255.76L294.77 255.76M291.94 255.76L291.85 259.67M292.75 256.45L294.32 256.45M292.75 256.45L292.75 257.83M294.32 256.45L294.32 257.83M292.75 257.14L294.32 257.14M292.75 257.83L294.32 257.83M293.56 257.83L293.56 259.67M292.75 258.52L292.39 259.44M294.32 258.52L294.77 259.44" stroke="#222" stroke-width="0.9" fill="none" stroke-linecap="square"/>
<path d="M306.21 255.76L306.64 256.22M306.13 257.14L306.64 257.60M306.21 259.44L306.77 258.29M308.58 255.30L308.58 255.99M307.29 256.22L310.08 256.22M307.72 256.22L307.50 257.37M307.50 257.37L309.87 257.37M307.72 258.06L307.50 259.67M308.67 258.06L308.67 259.67M309.65 258.06L309.65 259.67" stroke="#222" stroke-width="0.9" fill="none" stroke-linecap="square"/>
<path d="M312.40 255.99L315.60 255.99M314.00 255.30L314.00 256.68M313.00 256.68L313.00 259.21M315.00 256.68L315.00 259.21M313.00 256.68L315.00 256.68M313.00 257.60L315.00 257.60M313.00 258.52L315.00 258.52M312.20 259.53L315.80 259.53M312.40 256.68L312.40 259.53" stroke="#222" stroke-width="0.9" fill="none" stroke-linecap="square"/>
<path d="M318.52 256.22L320.98 256.22M318.52 256.22L318.52 258.52M320.98 256.22L320.98 258.52M318.52 257.37L320.98 257.37M318.52 258.52L320.98 258.52M319.75 255.30L319.75 259.44M319.75 259.44L321.32 259.44M321.32 259.44L321.32 258.75" stroke="#222" stroke-width="0.9" fill="none" stroke-linecap="square"/>
<path d="M322.73 255.76L323.18 256.22M322.63 257.14L323.18 257.60M322.73 259.44L323.31 258.29M323.85 255.76L326.77 255.76M323.94 255.76L323.85 259.67M324.75 256.45L326.32 256.45M324.75 256.45L324.75 257.83M326.32 256.45L326.32 257.83M324.75 257.14L326.32 257.14M324.75 257.83L326.32 257.83M325.56 257.83L325.56 259.67M324.75 258.52L324.39 259.44M326.32 258.52L326.77 259.44" stroke="#222" stroke-width="0.9" fill="none" stroke-linecap="square"/>
<g fill="#333"><rect x="296" y="257.25" width="3" height="1"/><rect x="297.0" y="255.5" width="1" height="4.5"/></g>
<rect x="328" y="257.25" width="3" height="1" fill="#333"/>
<rect x="288" y="268" width="1.8" height="6" fill="#222"/>
<rect x="318.5" y="268" width="1.8" height="6" fill="#222"/>
<circle cx="0.8" cy="424.5" r="1.2" fill="#666"/>
<path d="M52.4 8 L55.5 5.2 L58.6 8 L55.5 10.8 Z" fill="#111"/>
<circle cx="55.5" cy="8" r="2.2" fill="#111"/>
<path d="M72.4 26 L75.5 23.2 L78.6 26 L75.5 28.8 Z" fill="#111"/>
<circle cx="75.5" cy="26" r="2.2" fill="#111"/>
<path d="M52.4 109.5 L55.5 106.7 L58.6 109.5 L55.5 112.3 Z" fill="#111"/>
<circle cx="55.5" cy="109.5" r="2.2" fill="#111"/>
<path d="M72.4 119.5 L75.5 116.7 L78.6 119.5 L75.5 122.3 Z" fill="#111"/>
<circle cx="75.5" cy="119.5" r="2.2" fill="#111"/>
<circle cx="214" cy="233.5" r="1.6" fill="#111"/>
<path d="M52.4 222.5 L55.5 219.7 L58.6 222.5 L55.5 225.3 Z" fill="#111"/>
<circle cx="55.5" cy="222.5" r="2.2" fill="#111"/>
<path d="M72.4 233.5 L75.5 230.7 L78.6 233.5 L75.5 236.3 Z" fill="#111"/>
<circle cx="75.5" cy="233.5" r="2.2" fill="#111"/>
<path d="M522.4 222 L525.5 219.2 L528.6 222 L525.5 224.8 Z" fill="#111"/>
<circle cx="525.5" cy="222" r="2.2" fill="#111"/>
<path d="M542.4 233 L545.5 230.2 L548.6 233 L545.5 235.8 Z" fill="#111"/>
<circle cx="545.5" cy="233" r="2.2" fill="#111"/>
<path d="M522.4 8.7 L525.5 5.8999999999999995 L528.6 8.7 L525.5 11.5 Z" fill="#111"/>
<circle cx="525.5" cy="8.7" r="2.2" fill="#111"/>
<path d="M542.4 26 L545.5 23.2 L548.6 26 L545.5 28.8 Z" fill="#111"/>
<circle cx="545.5" cy="26" r="2.2" fill="#111"/>
<path d="M542.4 109.5 L545.5 106.7 L548.6 109.5 L545.5 112.3 Z" fill="#111"/>
<circle cx="545.5" cy="109.5" r="2.2" fill="#111"/>
<path d="M522.4 119.5 L525.5 116.7 L528.6 119.5 L525.5 122.3 Z" fill="#111"/>
<circle cx="525.5" cy="119.5" r="2.2" fill="#111"/>
<path d="M285.4 339.5 L288.5 336.7 L291.6 339.5 L288.5 342.3 Z" fill="#111"/>
<circle cx="288.5" cy="339.5" r="2.2" fill="#111"/>
<path d="M316.4 359.5 L319.5 356.7 L322.6 359.5 L319.5 362.3 Z" fill="#111"/>
<circle cx="319.5" cy="359.5" r="2.2" fill="#111"/>
<path d="M201.4 339.5 L204.5 336.7 L207.6 339.5 L204.5 342.3 Z" fill="#111"/>
<circle cx="204.5" cy="339.5" r="2.2" fill="#111"/>
<path d="M212.4 359.5 L215.5 356.7 L218.6 359.5 L215.5 362.3 Z" fill="#111"/>
<circle cx="215.5" cy="359.5" r="2.2" fill="#111"/>
<path d="M100.4 339.5 L103.5 336.7 L106.6 339.5 L103.5 342.3 Z" fill="#111"/>
<circle cx="103.5" cy="339.5" r="2.2" fill="#111"/>
<path d="M120.4 359.5 L123.5 356.7 L126.6 359.5 L123.5 362.3 Z" fill="#111"/>
<circle cx="123.5" cy="359.5" r="2.2" fill="#111"/>
<path d="M100.4 409.5 L103.5 406.7 L106.6 409.5 L103.5 412.3 Z" fill="#111"/>
<circle cx="103.5" cy="409.5" r="2.2" fill="#111"/>
<path d="M120.4 419.5 L123.5 416.7 L126.6 419.5 L123.5 422.3 Z" fill="#111"/>
<circle cx="123.5" cy="419.5" r="2.2" fill="#111"/>
<path d="M414.4 339.5 L417.5 336.7 L420.6 339.5 L417.5 342.3 Z" fill="#111"/>
<circle cx="417.5" cy="339.5" r="2.2" fill="#111"/>
<path d="M434.4 359.5 L437.5 356.7 L440.6 359.5 L437.5 362.3 Z" fill="#111"/>
<circle cx="437.5" cy="359.5" r="2.2" fill="#111"/>
<path d="M414.4 409.5 L417.5 406.7 L420.6 409.5 L417.5 412.3 Z" fill="#111"/>
<circle cx="417.5" cy="409.5" r="2.2" fill="#111"/>
<path d="M434.4 419.5 L437.5 416.7 L440.6 419.5 L437.5 422.3 Z" fill="#111"/>
<circle cx="437.5" cy="419.5" r="2.2" fill="#111"/>
</svg></body></html>
